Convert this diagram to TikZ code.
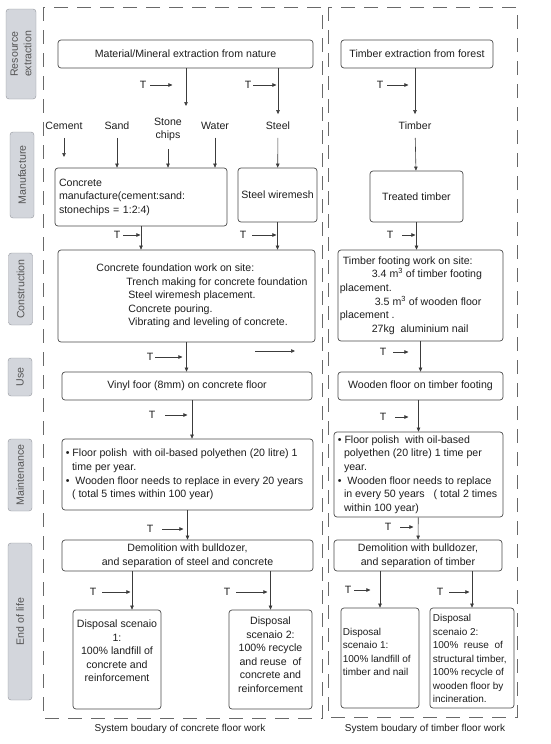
\documentclass[tikz,border=0pt]{standalone}
\usepackage{fontspec}
\setmainfont{Liberation Sans}
\usepackage{tikz}
\usetikzlibrary{arrows.meta,positioning}
\definecolor{boxline}{RGB}{75,75,75}
\definecolor{arrowgray}{RGB}{60,60,60}
\definecolor{stagefill}{RGB}{211,214,220}
\definecolor{stageline}{RGB}{145,148,155}
\definecolor{stagetext}{RGB}{85,85,85}
\definecolor{boundgray}{RGB}{105,105,105}
\definecolor{textdark}{RGB}{30,30,30}
\newcommand{\bfs}{\fontsize{10.6}{13.6}\selectfont}
\newcommand{\sfs}{\fontsize{10}{13.5}\selectfont}

\begin{document}
\begin{tikzpicture}[x=1pt,y=-1pt,
  stage/.style={rectangle,rounded corners=3pt,draw=stageline,fill=stagefill,rotate=90,
                minimum height=24pt,align=center,text=stagetext,font=\bfs,inner sep=1pt},
  box/.style={rectangle,rounded corners=3pt,draw=boxline,line width=0.7pt,fill=white,
              align=center,text=textdark,font=\bfs,inner sep=2pt},
  txt/.style={align=left,text=textdark,font=\bfs,inner sep=0pt},
  mat/.style={align=center,text=textdark,font=\bfs,inner sep=0pt,outer sep=8pt},
  tlab/.style={text=textdark,font=\bfs,inner sep=0pt},
  arr/.style={-{Triangle[length=4pt,width=3.5pt]},color=arrowgray,line width=0.6pt},
  bound/.style={dash pattern=on 14pt off 9pt,color=boundgray,line width=0.7pt}
]
  \useasboundingbox (0,0) rectangle (550,744);

  \node[stage,minimum width=90pt,minimum height=30pt] (sres) at (21,54) {Resource\\extraction};
  \node[stage,minimum width=86pt] (sman) at (22,175) {Manufacture};
  \node[stage,minimum width=72pt] (scon) at (20.5,289) {Construction};
  \node[stage,minimum width=38pt] (suse) at (20,377) {Use};
  \node[stage,minimum width=72pt] (smnt) at (20,475) {Maintenance};
  \node[stage,minimum width=157pt] (seol) at (20,621.5) {End of life};

  \draw[bound] (43,7) rectangle (322,718);
  \draw[bound] (328,7) rectangle (517,717);
  \node[tlab,font=\sfs] (lcon) at (180,729) {System boudary of concrete floor work};
  \node[tlab,font=\sfs] (ltim) at (425,729) {System boudary of timber floor work};

  \node[box,minimum width=255pt,minimum height=28pt] (mat) at (185.5,54) {Material/Mineral extraction from nature};
  \node[box,minimum width=152pt,minimum height=28pt] (tfor) at (417,54) {Timber extraction from forest};

  \node[mat] (cement) at (64,126) {Cement};
  \node[mat] (sand) at (117,126) {Sand};
  \node[mat] (stone) at (168,129.5) {Stone\\chips};
  \node[mat] (water) at (215,126) {Water};
  \node[mat] (steel) at (278,126) {Steel};
  \node[mat] (timber) at (415,126) {Timber};

  \coordinate (stonetop) at (186,106);
  \draw[arr] (mat.south -| stonetop) -- (stonetop);
  \draw[arr] (mat.south -| steel) -- (steel);
  \draw[arr] (tfor.south -| timber) -- (timber);

  \node[box,align=left,text width=164pt,minimum width=172pt,minimum height=58pt] (cman) at (141,197)
    {Concrete\\manufacture(cement:sand:\\stonechips = 1:2:4)};
  \node[box,minimum width=79pt,minimum height=54pt] (swm) at (277.5,195) {Steel wiremesh};
  \node[box,minimum width=93pt,minimum height=51pt] (ttim) at (416.5,196.5) {Treated timber};

  \coordinate (cemend) at (64,157);
  \draw[arr] (cement) -- (cemend);
  \draw[arr] (sand) -- (sand |- cman.north);
  \draw[arr] (stone) -- (stone |- cman.north);
  \draw[arr] (water) -- (water |- cman.north);
  \draw[arr] (steel) -- (swm);
  \draw[arr] (timber) -- (ttim);

  \node[box,minimum width=257pt,minimum height=92pt] (ccon) at (186.5,296) {};
  \node[txt,anchor=west] (ccontxt) at ([xshift=38.5pt]ccon.west)
    {Concrete foundation work on site:\\
     \hspace*{30pt}Trench making for concrete foundation\\
     \hspace*{32pt}Steel wiremesh placement.\\
     \hspace*{32pt}Concrete pouring.\\
     \hspace*{32pt}Vibrating and leveling of concrete.};
  \node[box,minimum width=165pt,minimum height=91pt] (tcon) at (420.5,295.5) {};
  \node[txt,anchor=west] (tcontxt) at ([xshift=2pt]tcon.west)
    {\hspace*{3pt}Timber footing work on site:\\
     \hspace*{32pt}3.4 m\textsuperscript{3} of timber footing\\
     placement.\\
     \hspace*{35pt}3.5 m\textsuperscript{3} of wooden floor\\
     placement .\\
     \hspace*{32pt}27kg~ aluminium nail};

  \draw[arr] (cman) -- (cman |- ccon.north);
  \draw[arr] (swm) -- (swm |- ccon.north);
  \draw[arr] (ttim) -- (ttim |- tcon.north);

  \node[box,minimum width=250pt,minimum height=28pt] (cuse) at (187,386) {Vinyl foor (8mm) on concrete floor};
  \node[box,minimum width=165pt,minimum height=28pt] (tuse) at (420.5,386) {Wooden floor on timber footing};
  \draw[arr] (ccon) -- (ccon |- cuse.north);
  \draw[arr] (tcon) -- (tcon |- tuse.north);
  \coordinate (free1) at (255,351);
  \coordinate (free2) at (295,351);
  \draw[arr] (free1) -- (free2);

  \node[box,minimum width=251pt,minimum height=71pt] (cmnt) at (187.5,474.5) {};
  \node[txt,anchor=west] (cmnttxt) at ([xshift=4pt]cmnt.west)
    {\textbullet\ Floor polish~ with oil-based polyethen (20 litre) 1\\
     \hspace*{6.2pt}time per year.\\
     \textbullet~ Wooden floor needs to replace in every 20 years\\
     \hspace*{6.2pt}( total 5 times within 100 year)};
  \node[box,minimum width=169pt,minimum height=85pt] (tmnt) at (418.5,474.5) {};
  \node[txt,anchor=west] (tmnttxt) at ([xshift=4pt]tmnt.west)
    {\textbullet\ Floor polish~ with oil-based\\
     \hspace*{6.2pt}polyethen (20 litre) 1 time per\\
     \hspace*{6.2pt}year.\\
     \textbullet~ Wooden floor needs to replace\\
     \hspace*{6.2pt}in every 50 years~~ ( total 2 times\\
     \hspace*{6.2pt}within 100 year)};
  \draw[arr] ([xshift=5pt]cuse.south) -- ([xshift=4.5pt]cmnt.north);
  \draw[arr] (tuse.south -| tmnt) -- (tmnt);

  \node[box,minimum width=251pt,minimum height=31pt] (ceol) at (187.5,555.5)
    {Demolition with bulldozer,\\and separation of steel and concrete};
  \node[box,minimum width=168pt,minimum height=31pt] (teol) at (418,555.5)
    {Demolition with bulldozer,\\and separation of timber};
  \draw[arr] (cmnt) -- (ceol);
  \draw[arr] (tmnt) -- (teol);

  \node[box,minimum width=88pt,minimum height=99pt] (cd1) at (117,659.5) {};
  \node[txt,align=center,below=10pt of cd1.north] (cd1txt)
    {Disposal scenaio\\1:\\100\% landfill of\\concrete and\\reinforcement};
  \node[box,minimum width=83pt,minimum height=99pt] (cd2) at (270.5,659.5) {};
  \node[txt,align=center,below=7pt of cd2.north] (cd2txt)
    {Disposal\\scenaio 2:\\100\% recycle\\and reuse~ of\\concrete and\\reinforcement};
  \node[box,minimum width=78pt,minimum height=100pt] (td1) at (380,658) {};
  \node[txt,font=\sfs,anchor=north west] (td1txt) at ([xshift=2pt,yshift=-20pt]td1.north west)
    {Disposal\\scenaio 1:\\100\% landfill of\\timber and nail};
  \node[box,minimum width=84pt,minimum height=100pt] (td2) at (472,658) {};
  \node[txt,font=\sfs,anchor=north west] (td2txt) at ([xshift=3pt,yshift=-6.5pt]td2.north west)
    {Disposal\\scenaio 2:\\100\%~ reuse~ of\\structural timber,\\100\% recycle of\\wooden floor by\\incineration.};

  \coordinate (split1) at (132,0);
  \draw[arr] (ceol.south -| split1) -- (cd1.north -| split1);
  \draw[arr] (ceol.south -| cd2) -- (cd2);
  \draw[arr] (teol.south -| td1) -- (td1);
  \draw[arr] (teol.south -| td2) -- (td2);

  \node[tlab] (t1) at (143,85) {T};
  \draw[arr] ([xshift=4pt]t1.east) -- ([xshift=26pt]t1.east);
  \node[tlab] (t2) at (248,85) {T};
  \draw[arr] ([xshift=2pt]t2.east) -- ([xshift=25pt]t2.east);
  \node[tlab] (t3) at (380,85) {T};
  \draw[arr] ([xshift=4pt]t3.east) -- ([xshift=25pt]t3.east);
  \node[tlab] (t4) at (117,235) {T};
  \draw[arr] ([xshift=3pt]t4.east) -- ([xshift=20pt]t4.east);
  \node[tlab] (t5) at (243,235) {T};
  \draw[arr] ([xshift=6pt]t5.east) -- ([xshift=30pt]t5.east);
  \node[tlab] (t6) at (390,235) {T};
  \draw[arr] ([xshift=9pt]t6.east) -- ([xshift=22pt]t6.east);
  \node[tlab] (t7) at (150,357) {T};
  \draw[arr] ([xshift=2pt]t7.east) -- ([xshift=29pt]t7.east);
  \node[tlab] (t8) at (383,352) {T};
  \draw[arr] ([xshift=7pt]t8.east) -- ([xshift=22pt]t8.east);
  \node[tlab] (t9) at (152,415) {T};
  \draw[arr] ([xshift=10pt]t9.east) -- ([xshift=32pt]t9.east);
  \node[tlab] (t10) at (383,417) {T};
  \draw[arr] ([xshift=9pt]t10.east) -- ([xshift=22pt]t10.east);
  \node[tlab] (t11) at (150,529) {T};
  \draw[arr] ([xshift=9pt]t11.east) -- ([xshift=30pt]t11.east);
  \node[tlab] (t12) at (388,527) {T};
  \draw[arr] ([xshift=9pt]t12.east) -- ([xshift=22pt]t12.east);
  \node[tlab] (t13) at (93,592) {T};
  \draw[arr] ([xshift=6pt]t13.east) -- ([xshift=34pt]t13.east);
  \node[tlab] (t14) at (227,592) {T};
  \draw[arr] ([xshift=6pt]t14.east) -- ([xshift=37pt]t14.east);
  \node[tlab] (t15) at (348,590) {T};
  \draw[arr] ([xshift=3pt]t15.east) -- ([xshift=19pt]t15.east);
  \node[tlab] (t16) at (440,592) {T};
  \draw[arr] ([xshift=6pt]t16.east) -- ([xshift=26pt]t16.east);
\end{tikzpicture}
\end{document}
